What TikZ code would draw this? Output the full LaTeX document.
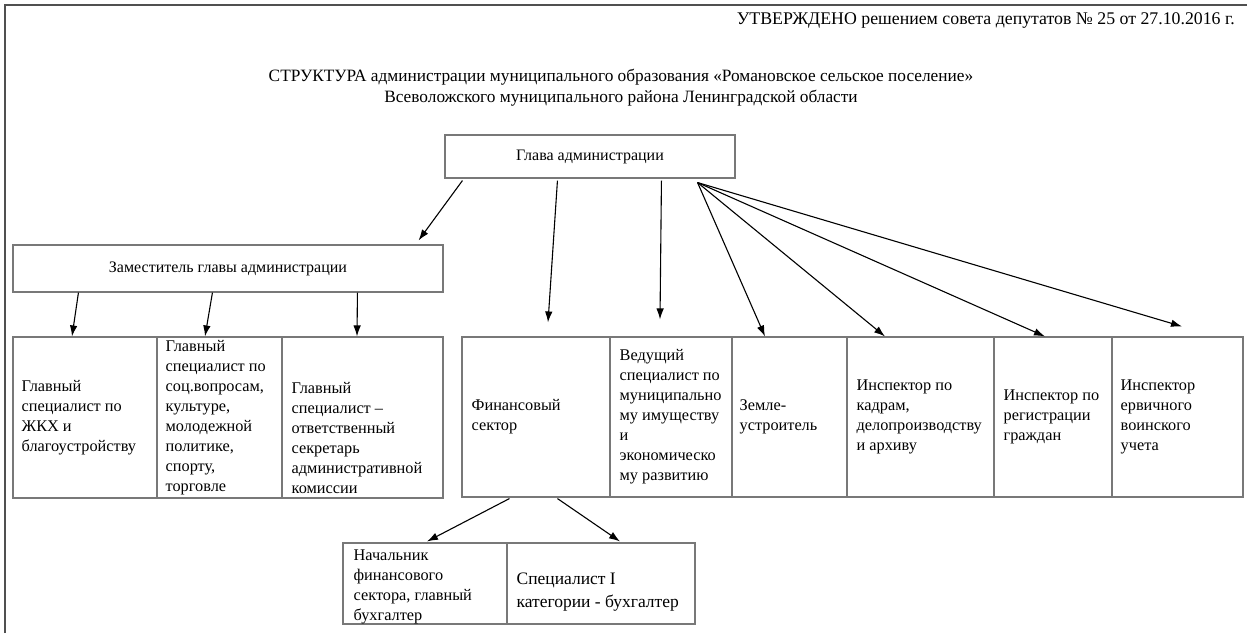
\documentclass[tikz,border=0pt]{standalone}
\usepackage{fontspec}
\setmainfont{Liberation Serif}
\usetikzlibrary{arrows.meta,calc}
\definecolor{boxgray}{RGB}{120,120,120}
\definecolor{framegray}{RGB}{80,80,80}
\begin{document}
\begin{tikzpicture}[x=1pt,y=-1pt,
  box/.style={draw=boxgray, line width=1.1pt, inner sep=0pt, fill=white},
  txt/.style={font=\fontsize{16.3}{20}\selectfont, align=left, inner sep=0pt, anchor=west},
  ctxt/.style={font=\fontsize{17.3}{21}\selectfont, align=center, inner sep=0pt},
  arr/.style={draw=black, line width=1.1pt, -{Latex[length=11pt,width=7.5pt]}}]
\useasboundingbox (0,0) rectangle (1247,633);
\fill[white] (0,0) rectangle (1247,633);
% frame
\draw[framegray, line width=2pt] (5,633) -- (5,5) -- (1247,5);
% headings
\node[ctxt, font=\fontsize{17.8}{21}\selectfont, anchor=east] (approved) at (1235,20) {УТВЕРЖДЕНО решением совета депутатов № 25 от 27.10.2016 г.};
\node[ctxt] (title) at (621,87.5) {СТРУКТУРА администрации муниципального образования «Романовское сельское поселение»\\Всеволожского муниципального района Ленинградской области};
% top boxes
\node[box, minimum width=290, minimum height=43, font=\fontsize{16}{20}\selectfont] (glava) at (590,156.5) {Глава администрации};
\node[box, minimum width=430, minimum height=47, font=\fontsize{16}{20}\selectfont] (zam) at (228,268.5) {Заместитель главы администрации};
% left row
\node[box, minimum width=144, minimum height=161] (zkh) at (85,417.5) {};
\node[box, minimum width=125, minimum height=161] (soc) at (219.5,417.5) {};
\node[box, minimum width=161, minimum height=161] (sec) at (362.5,417.5) {};
% right row
\node[box, minimum width=148, minimum height=160] (fin) at (536,417) {};
\node[box, minimum width=122, minimum height=160] (ved) at (671,417) {};
\node[box, minimum width=115, minimum height=160] (zem) at (789.5,417) {};
\node[box, minimum width=147, minimum height=160] (kadr) at (920.5,417) {};
\node[box, minimum width=118, minimum height=160] (reg) at (1053,417) {};
\node[box, minimum width=131, minimum height=160] (voin) at (1177.5,417) {};
% bottom row
\node[box, minimum width=164, minimum height=81] (nach) at (425,583.5) {};
\node[box, minimum width=188, minimum height=81] (spec) at (601,583.5) {};
% texts
\node[txt] (tzkh) at ($(zkh.west)+(9,0)$) {Главный\\специалист по\\ЖКХ и\\благоустройству};
\node[txt] (tsoc) at ($(soc.west)+(9,0)$) {Главный\\специалист по\\соц.вопросам,\\культуре,\\молодежной\\политике,\\спорту,\\торговле};
\node[txt] (tsec) at ($(sec.west)+(10,20)$) {Главный\\специалист –\\ответственный\\секретарь\\административной\\комиссии};
\node[txt] (tfin) at ($(fin.west)+(10,0)$) {Финансовый\\сектор};
\node[txt] (tved) at ($(ved.west)+(10,0)$) {Ведущий\\специалист по\\муниципально\\му имуществу\\и\\экономическо\\му развитию};
\node[txt] (tzem) at ($(zem.west)+(8,0)$) {Земле-\\устроитель};
\node[txt] (tkadr) at ($(kadr.west)+(10,0)$) {Инспектор по\\кадрам,\\делопроизводству\\и архиву};
\node[txt] (treg) at ($(reg.west)+(10,0)$) {Инспектор по\\регистрации\\граждан};
\node[txt] (tvoin) at ($(voin.west)+(9,0)$) {Инспектор\\ервичного\\воинского\\учета};
\node[txt] (tnach) at ($(nach.west)+(11,3)$) {Начальник\\финансового\\сектора, главный\\бухгалтер};
\node[txt, font=\fontsize{17.5}{23}\selectfont] (tspec) at ($(spec.west)+(10,9)$) {Специалист I\\категории - бухгалтер};
% arrows from head
\coordinate (fan) at ($(glava.south east)+(-38,4)$);
\draw[arr] ($(glava.south west)+(18,2)$) -- ($(zam.north east)+(-25,-4)$);
\draw[arr] ($(glava.south west)+(113,2)$) -- ($(fin.north)+(12,-14)$);
\draw[arr] ($(glava.south west)+(217,2)$) -- ($(ved.north)+(-11,-17)$);
\draw[arr] (fan) -- ($(zem.north)+(-24.5,0)$);
\draw[arr] (fan) -- ($(kadr.north)+(-35.5,0)$);
\draw[arr] (fan) -- ($(reg.north)+(-8,0)$);
\draw[arr] (fan) -- ($(voin.north)+(4.5,-10)$);
% arrows from deputy
\draw[arr] ($(zam.south west)+(66,0)$) -- ($(zkh.north)+(-13,0)$);
\draw[arr] ($(zam.south west)+(200,0)$) -- ($(soc.north)+(-14.5,0)$);
\draw[arr] ($(zam.south west)+(345,0)$) -- ($(sec.north)+(-5.5,0)$);
% arrows from finance
\draw[arr] ($(fin.south west)+(48,1)$) -- ($(nach.north)+(2,-1)$);
\draw[arr] ($(fin.south west)+(96,1)$) -- ($(spec.north)+(19,-1)$);
\end{tikzpicture}
\end{document}
